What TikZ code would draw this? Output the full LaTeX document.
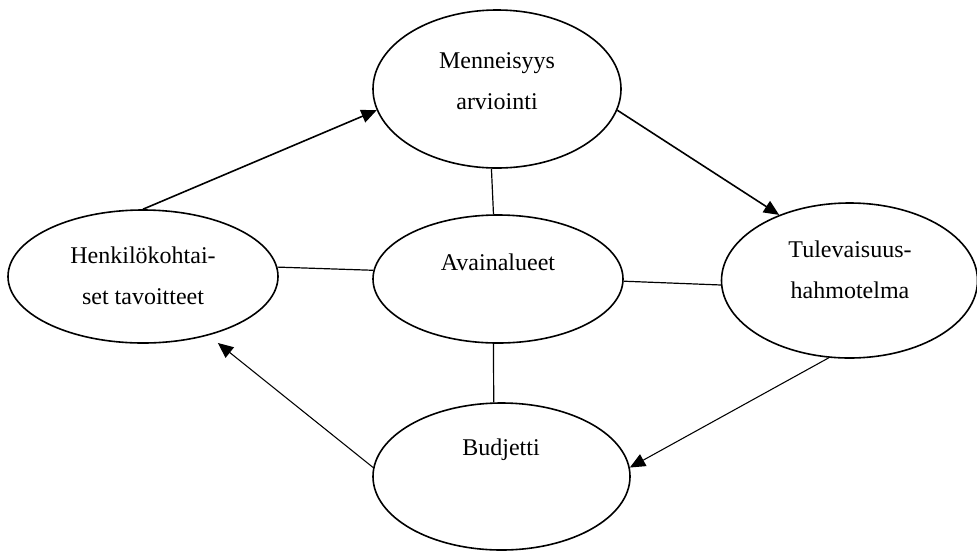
\documentclass[tikz,border=0pt]{standalone}
\usepackage{fontspec}
\setmainfont{Liberation Serif}
\usetikzlibrary{shapes}
\usetikzlibrary{arrows.meta}
\tikzset{
  ovalbox/.style={ellipse, draw, line width=1.2pt, inner sep=0pt},
  ovaltext/.style={align=center, inner sep=0pt, font=\fontsize{18}{30.75}\selectfont},
  stagearrow/.style={line width=1.2pt, -{Triangle[length=11.5pt, width=10pt]}},
  spokeline/.style={line width=0.9pt}
}

\begin{document}
\begin{tikzpicture}[x=0.75pt, y=-0.75pt]
    \useasboundingbox (0,0) rectangle (977,551);

    \node[ovalbox, minimum width=186pt, minimum height=118.5pt] (menn) at (497,89) {};
    \node[ovalbox, minimum width=202.5pt, minimum height=99.75pt] (henk) at (143,276.5) {};
    \node[ovalbox, minimum width=187.5pt, minimum height=96pt] (avain) at (498,279) {};
    \node[ovalbox, minimum width=192pt, minimum height=116.25pt] (tule) at (849.5,280.5) {};
    \node[ovalbox, minimum width=192.75pt, minimum height=110.25pt] (budj) at (501.5,476.5) {};

    \node[ovaltext] (menntext) at (497,81) {Menneisyys\\arviointi};
    \node[ovaltext] (henktext) at (143,276) {Henkilökohtai-\\set tavoitteet};
    \node[ovaltext] (avaintext) at (498,262) {Avainalueet};
    \node[ovaltext] (tuletext) at (850,270) {Tulevaisuus-\\hahmotelma};
    \node[ovaltext] (budjtext) at (501,450) {Budjetti};

    \draw[spokeline] (menn.266) -- (avain.94);
    \draw[spokeline] (henk.4) -- (avain.176);
    \draw[spokeline] (avain.-1) -- (tule.182);
    \draw[spokeline] (avain.266) -- (budj.96);

    \draw[stagearrow] (henk.north) -- (menn.190);
    \draw[stagearrow] (menn.350) -- (tule.137);
    \draw[stagearrow, line width=0.8pt] (tule.255) -- (budj.4);
    \draw[stagearrow, line width=0.8pt, shorten >=9pt] (budj.176) -- (henk.-42);
\end{tikzpicture}
\end{document}
